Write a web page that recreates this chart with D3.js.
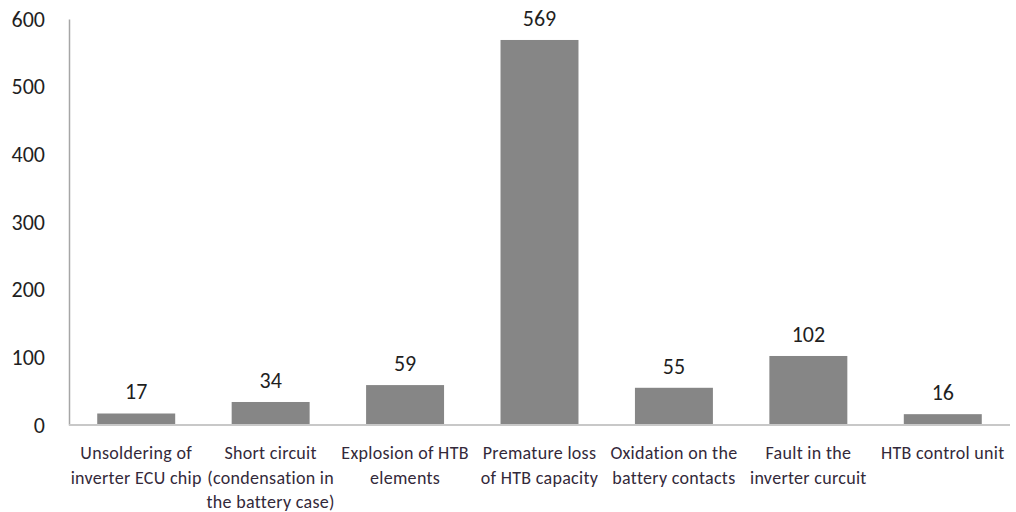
<!DOCTYPE html>
<html>
<head>
<meta charset="utf-8">
<script src="https://cdn.jsdelivr.net/npm/d3@7"></script>
<style>
  html, body { margin: 0; padding: 0; background: #fff; }
  svg { display: block; }
  text { font-family: Carlito, Lato, "Open Sans", sans-serif; }
</style>
</head>
<body>
<svg id="chart" width="1016" height="512"></svg>
<script>
// Failure causes (line breaks mark how each label wraps)
const categories = [
  "Unsoldering of\ninverter ECU chip",
  "Short circuit\n(condensation in\nthe battery case)",
  "Explosion of HTB\nelements",
  "Premature loss\nof HTB capacity",
  "Oxidation on the\nbattery contacts",
  "Fault in the\ninverter curcuit",
  "HTB control unit"
];
const counts = [17, 34, 59, 569, 55, 102, 16];
const yTicks = [0, 100, 200, 300, 400, 500, 600];

const svg = d3.select("#chart");
const margin = { left: 69, right: 6, top: 19, bottom: 87 };
const W = 1016, H = 512;

const x = d3.scaleBand()
  .domain(categories)
  .range([margin.left, W - margin.right])
  .paddingInner(0.42)
  .paddingOuter(0.21);

const y = d3.scaleLinear()
  .domain([0, 600])
  .range([H - margin.bottom, margin.top]);

// Bars
svg.append("g")
  .selectAll("rect")
  .data(counts)
  .join("rect")
  .attr("x", (d, i) => x(categories[i]))
  .attr("y", d => y(d))
  .attr("width", x.bandwidth())
  .attr("height", d => y(0) - y(d))
  .attr("fill", "#868686");

// Value labels
svg.append("g")
  .selectAll("text")
  .data(counts)
  .join("text")
  .attr("x", (d, i) => x(categories[i]) + x.bandwidth() / 2)
  .attr("y", d => y(d) - 14)
  .attr("text-anchor", "middle")
  .attr("font-size", 22)
  .attr("fill", "#1f1f1f")
  .text(d => d);

// Y axis
const yAxis = svg.append("g")
  .attr("transform", `translate(${margin.left},0)`)
  .call(d3.axisLeft(y).tickValues(yTicks).tickSize(0).tickPadding(24));
yAxis.select(".domain").attr("stroke", "#a6a6a6").attr("stroke-width", 1.5);
yAxis.selectAll("text")
  .attr("font-size", 22)
  .attr("fill", "#1f1f1f")
  .style("font-family", "Carlito, Lato, 'Open Sans', sans-serif");

// X axis baseline
svg.append("line")
  .attr("x1", margin.left)
  .attr("x2", W - margin.right)
  .attr("y1", y(0))
  .attr("y2", y(0))
  .attr("stroke", "#c8c8c8")
  .attr("stroke-width", 2);

// Category labels
const labels = svg.append("g")
  .selectAll("text")
  .data(categories)
  .join("text")
  .attr("x", d => x(d) + x.bandwidth() / 2)
  .attr("y", y(0) + 34)
  .attr("text-anchor", "middle")
  .attr("font-size", 18)
  .attr("letter-spacing", 0.3)
  .attr("fill", "#33293a");
labels.selectAll("tspan")
  .data(d => d.split("\n"))
  .join("tspan")
  .attr("x", function () { return this.parentNode.getAttribute("x"); })
  .attr("dy", (d, i) => i === 0 ? 0 : 24.5)
  .text(d => d);
</script>
</body>
</html>
